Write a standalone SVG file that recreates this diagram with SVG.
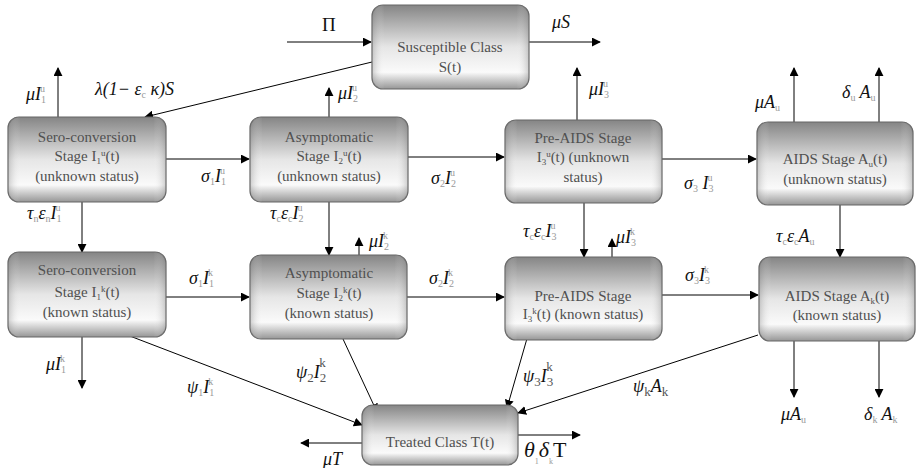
<svg xmlns="http://www.w3.org/2000/svg" width="916" height="468" viewBox="0 0 916 468">
<defs>
<linearGradient id="gv" x1="0" y1="0" x2="0" y2="1">
<stop offset="0" stop-color="#858585"/>
<stop offset="0.5" stop-color="#e6e6e6"/>
<stop offset="0.8" stop-color="#fafafa"/>
<stop offset="1" stop-color="#969696"/>
</linearGradient>
<linearGradient id="gh" x1="0" y1="0" x2="1" y2="0">
<stop offset="0" stop-color="#777" stop-opacity="0.35"/>
<stop offset="0.08" stop-color="#fff" stop-opacity="0"/>
<stop offset="0.92" stop-color="#fff" stop-opacity="0"/>
<stop offset="1" stop-color="#777" stop-opacity="0.35"/>
</linearGradient>
<marker id="ah" viewBox="0 0 10 10" refX="9" refY="5" markerWidth="9" markerHeight="9" markerUnits="userSpaceOnUse" orient="auto">
<path d="M0,0 L10,5 L0,10 z" fill="#000"/>
</marker>
</defs>
<style>
.box{fill:url(#gv);stroke:#666;stroke-width:1.2}
.edge{fill:url(#gh);stroke:none}
.bt{font-family:"Liberation Serif","Times New Roman",serif;font-size:15px;fill:#505050;text-anchor:middle}
.ln{stroke:#000;stroke-width:1;fill:none;marker-end:url(#ah)}
.lb{font-family:"Liberation Serif","Times New Roman",serif;font-style:italic;font-size:18px;fill:#111}
.s{font-size:10px;fill:#999;font-style:normal}
.b{font-size:13px;fill:#555;font-style:normal}
</style>

<g id="connectors">
<line class="ln" x1="287" y1="42" x2="371" y2="42"/>
<line class="ln" x1="529" y1="42" x2="600" y2="42"/>
<line class="ln" x1="372" y1="62" x2="145" y2="117"/>
<line class="ln" x1="58" y1="117" x2="58" y2="68"/>
<line class="ln" x1="329" y1="117" x2="329" y2="88"/>
<line class="ln" x1="577" y1="120" x2="577" y2="68"/>
<line class="ln" x1="794" y1="122" x2="794" y2="68"/>
<line class="ln" x1="879" y1="122" x2="879" y2="68"/>
<line class="ln" x1="166" y1="159" x2="249" y2="159"/>
<line class="ln" x1="408" y1="157" x2="504" y2="157"/>
<line class="ln" x1="662" y1="159" x2="756" y2="159"/>
<line class="ln" x1="82" y1="202" x2="82" y2="252"/>
<line class="ln" x1="329" y1="202" x2="329" y2="255"/>
<line class="ln" x1="359" y1="255" x2="359" y2="238"/>
<line class="ln" x1="584" y1="203" x2="584" y2="257"/>
<line class="ln" x1="612" y1="257" x2="612" y2="239"/>
<line class="ln" x1="840" y1="205" x2="840" y2="257"/>
<line class="ln" x1="166" y1="297" x2="249" y2="297"/>
<line class="ln" x1="407" y1="297" x2="504" y2="297"/>
<line class="ln" x1="662" y1="295" x2="758" y2="295"/>
<line class="ln" x1="82" y1="337" x2="82" y2="388"/>
<line class="ln" x1="122" y1="333" x2="362" y2="425"/>
<line class="ln" x1="343" y1="339" x2="377" y2="412"/>
<line class="ln" x1="528" y1="335" x2="507" y2="408"/>
<line class="ln" x1="758" y1="335" x2="518" y2="413"/>
<line class="ln" x1="794" y1="341" x2="794" y2="397"/>
<line class="ln" x1="879" y1="341" x2="879" y2="397"/>
<line class="ln" x1="362" y1="443" x2="301" y2="443"/>
<line class="ln" x1="518" y1="435" x2="580" y2="435"/>
</g>

<g id="susceptible">
<rect class="box" x="372" y="5" width="157" height="84" rx="11"/>
<rect class="edge" x="372" y="5" width="157" height="84" rx="11"/>
<text class="bt" x="450" y="52">Susceptible Class</text>
<text class="bt" x="450" y="72">S(t)</text>
</g>

<g id="sero_u">
<rect class="box" x="8" y="117" width="158" height="85" rx="11"/>
<rect class="edge" x="8" y="117" width="158" height="85" rx="11"/>
<text class="bt" x="87" y="142">Sero-conversion</text>
<text class="bt" x="87" y="161">Stage I<tspan font-size="9" dy="3">1</tspan><tspan font-size="9" dy="-8">u</tspan><tspan dy="5">(t)</tspan></text>
<text class="bt" x="87" y="181">(unknown status)</text>
</g>

<g id="asym_u">
<rect class="box" x="250" y="117" width="158" height="85" rx="11"/>
<rect class="edge" x="250" y="117" width="158" height="85" rx="11"/>
<text class="bt" x="329" y="142">Asymptomatic</text>
<text class="bt" x="329" y="161">Stage I<tspan font-size="9" dy="3">2</tspan><tspan font-size="9" dy="-8">u</tspan><tspan dy="5">(t)</tspan></text>
<text class="bt" x="329" y="181">(unknown status)</text>
</g>

<g id="preaids_u">
<rect class="box" x="505" y="120" width="157" height="83" rx="11"/>
<rect class="edge" x="505" y="120" width="157" height="83" rx="11"/>
<text class="bt" x="583" y="143">Pre-AIDS Stage</text>
<text class="bt" x="583" y="162">I<tspan font-size="9" dy="3">3</tspan><tspan font-size="9" dy="-8">u</tspan><tspan dy="5">(t) (unknown</tspan></text>
<text class="bt" x="583" y="182">status)</text>
</g>

<g id="aids_u">
<rect class="box" x="757" y="122" width="156" height="83" rx="11"/>
<rect class="edge" x="757" y="122" width="156" height="83" rx="11"/>
<text class="bt" x="835" y="164">AIDS Stage A<tspan font-size="9" dy="3">u</tspan><tspan dy="-3">(t)</tspan></text>
<text class="bt" x="835" y="184">(unknown status)</text>
</g>

<g id="sero_k">
<rect class="box" x="8" y="252" width="158" height="85" rx="11"/>
<rect class="edge" x="8" y="252" width="158" height="85" rx="11"/>
<text class="bt" x="87" y="275">Sero-conversion</text>
<text class="bt" x="87" y="297">Stage I<tspan font-size="9" dy="3">1</tspan><tspan font-size="9" dy="-8">k</tspan><tspan dy="5">(t)</tspan></text>
<text class="bt" x="87" y="317">(known status)</text>
</g>

<g id="asym_k">
<rect class="box" x="250" y="255" width="157" height="84" rx="11"/>
<rect class="edge" x="250" y="255" width="157" height="84" rx="11"/>
<text class="bt" x="329" y="278">Asymptomatic</text>
<text class="bt" x="329" y="298">Stage I<tspan font-size="9" dy="3">2</tspan><tspan font-size="9" dy="-8">k</tspan><tspan dy="5">(t)</tspan></text>
<text class="bt" x="329" y="318">(known status)</text>
</g>

<g id="preaids_k">
<rect class="box" x="505" y="257" width="157" height="83" rx="11"/>
<rect class="edge" x="505" y="257" width="157" height="83" rx="11"/>
<text class="bt" x="583" y="301">Pre-AIDS Stage</text>
<text class="bt" x="583" y="319">I<tspan font-size="9" dy="3">3</tspan><tspan font-size="9" dy="-8">k</tspan><tspan dy="5">(t) (known status)</tspan></text>
</g>

<g id="aids_k">
<rect class="box" x="759" y="257" width="156" height="84" rx="11"/>
<rect class="edge" x="759" y="257" width="156" height="84" rx="11"/>
<text class="bt" x="837" y="301">AIDS Stage A<tspan font-size="9" dy="3">k</tspan><tspan dy="-3">(t)</tspan></text>
<text class="bt" x="837" y="320">(known status)</text>
</g>

<g id="treated">
<rect class="box" x="362" y="405" width="156" height="60" rx="11"/>
<rect class="edge" x="362" y="405" width="156" height="60" rx="11"/>
<text class="bt" x="440" y="447">Treated Class T(t)</text>
</g>

<g id="labels">
<text x="322" y="31" font-family="Liberation Serif,serif" font-size="19" fill="#111">Π</text>
<text class="lb" x="552" y="28">μS</text>
<text class="lb" x="95" y="95">λ(1− ε<tspan class="s" dy="3">c</tspan><tspan dy="-3"> κ)S</tspan></text>
<text class="lb" x="26" y="100">μI<tspan class="s" dy="3">1</tspan><tspan class="s" dx="-6" dy="-11">u</tspan></text>
<text class="lb" x="338" y="99">μI<tspan class="s" dy="3">2</tspan><tspan class="s" dx="-6" dy="-11">u</tspan></text>
<text class="lb" x="589" y="95">μI<tspan class="s" dy="3">3</tspan><tspan class="s" dx="-6" dy="-11">u</tspan></text>
<text class="lb" x="755" y="108">μA<tspan class="s" dy="3">u</tspan></text>
<text class="lb" x="842" y="98">δ<tspan class="s" dy="3">u</tspan><tspan dy="-3"> A</tspan><tspan class="s" dy="3">u</tspan></text>
<text class="lb" x="201" y="182">σ<tspan class="s" dy="3">1</tspan><tspan dy="-3">I</tspan><tspan class="s" dy="3">1</tspan><tspan class="s" dx="-6" dy="-11">u</tspan></text>
<text class="lb" x="431" y="184">σ<tspan class="s" dy="3">2</tspan><tspan dy="-3">I</tspan><tspan class="s" dy="3">2</tspan><tspan class="s" dx="-6" dy="-11">u</tspan></text>
<text class="lb" x="684" y="189">σ<tspan class="s" dy="3">3</tspan><tspan dy="-3"> I</tspan><tspan class="s" dy="3">3</tspan><tspan class="s" dx="-6" dy="-11">u</tspan></text>
<text class="lb" x="27" y="219">τ<tspan class="s" dy="3">n</tspan><tspan dy="-3">ε</tspan><tspan class="s" dy="3">n</tspan><tspan dy="-3">I</tspan><tspan class="s" dy="3">1</tspan><tspan class="s" dx="-6" dy="-11">u</tspan></text>
<text class="lb" x="270" y="219">τ<tspan class="s" dy="3">c</tspan><tspan dy="-3">ε</tspan><tspan class="s" dy="3">c</tspan><tspan dy="-3">I</tspan><tspan class="s" dy="3">2</tspan><tspan class="s" dx="-6" dy="-11">u</tspan></text>
<text class="lb" x="523" y="237">τ<tspan class="s" dy="3">c</tspan><tspan dy="-3">ε</tspan><tspan class="s" dy="3">c</tspan><tspan dy="-3">I</tspan><tspan class="s" dy="3">3</tspan><tspan class="s" dx="-6" dy="-11">u</tspan></text>
<text class="lb" x="776" y="242">τ<tspan class="s" dy="3">c</tspan><tspan dy="-3">ε</tspan><tspan class="s" dy="3">c</tspan><tspan dy="-3">A</tspan><tspan class="s" dy="3">u</tspan></text>
<text class="lb" x="369" y="247">μI<tspan class="s" dy="3">2</tspan><tspan class="s" dx="-6" dy="-11">k</tspan></text>
<text class="lb" x="616" y="243">μI<tspan class="s" dy="3">3</tspan><tspan class="s" dx="-6" dy="-11">k</tspan></text>
<text class="lb" x="189" y="284">σ<tspan class="s" dy="3">1</tspan><tspan dy="-3">I</tspan><tspan class="s" dy="3">1</tspan><tspan class="s" dx="-6" dy="-11">k</tspan></text>
<text class="lb" x="429" y="284">σ<tspan class="s" dy="3">2</tspan><tspan dy="-3">I</tspan><tspan class="s" dy="3">2</tspan><tspan class="s" dx="-6" dy="-11">k</tspan></text>
<text class="lb" x="685" y="281">σ<tspan class="s" dy="3">3</tspan><tspan dy="-3">I</tspan><tspan class="s" dy="3">3</tspan><tspan class="s" dx="-6" dy="-11">k</tspan></text>
<text class="lb" x="46" y="370">μI<tspan class="s" dy="3">1</tspan><tspan class="s" dx="-6" dy="-11">k</tspan></text>
<text class="lb" x="187" y="393">ψ<tspan class="s" dy="3">1</tspan><tspan dy="-3">I</tspan><tspan class="s" dy="3">1</tspan><tspan class="s" dx="-6" dy="-11">k</tspan></text>
<text class="lb" x="296" y="378" font-size="21">ψ<tspan class="b" dy="4">2</tspan><tspan dy="-4">I</tspan><tspan class="b" dy="4">2</tspan><tspan class="b" dx="-7" dy="-15">k</tspan></text>
<text class="lb" x="523" y="382" font-size="21">ψ<tspan class="b" dy="4">3</tspan><tspan dy="-4">I</tspan><tspan class="b" dy="4">3</tspan><tspan class="b" dx="-7" dy="-15">k</tspan></text>
<text class="lb" x="633" y="392" font-size="23">ψ<tspan class="b" dy="4">k</tspan><tspan dy="-4">A</tspan><tspan class="b" dy="4">k</tspan></text>
<text class="lb" x="781" y="420">μA<tspan class="s" dy="3">u</tspan></text>
<text class="lb" x="864" y="420">δ<tspan class="s" dy="3">k</tspan><tspan dy="-3"> A</tspan><tspan class="s" dy="3">k</tspan></text>
<text class="lb" x="323" y="465" font-size="21">μT</text>
<text x="524" y="457" font-family="Liberation Serif,serif" font-size="22" fill="#111"><tspan font-style="italic">θ</tspan><tspan font-size="8" fill="#999" dy="7">1</tspan><tspan font-style="italic" dy="-7">δ</tspan><tspan font-size="8" fill="#999" dy="7">k</tspan><tspan dy="-7">T</tspan></text>
</g>
</svg>
